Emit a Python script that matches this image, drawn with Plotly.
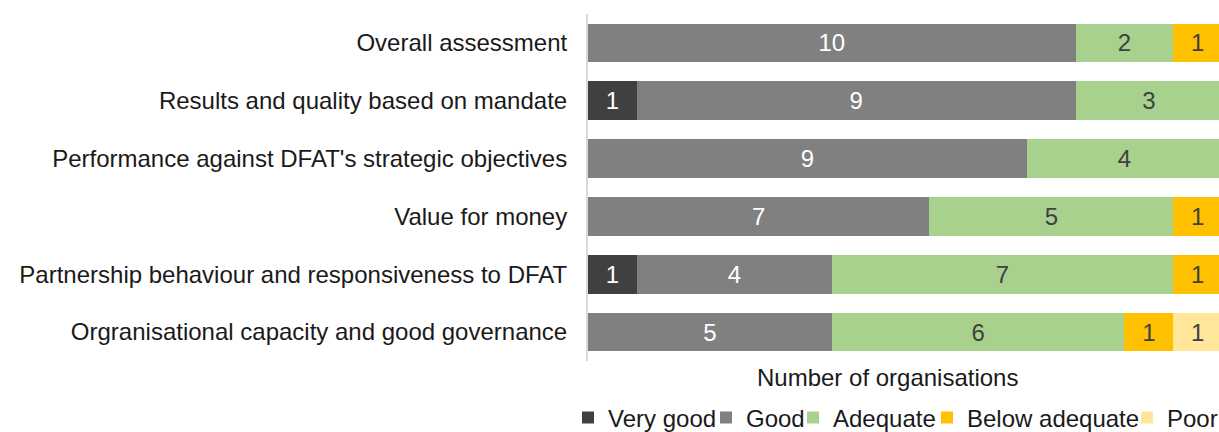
import plotly.graph_objects as go

# Assessment criteria, listed top to bottom
criteria = [
    "Overall assessment",
    "Results and quality based on mandate",
    "Performance against DFAT's strategic objectives",
    "Value for money",
    "Partnership behaviour and responsiveness to DFAT",
    "Orgranisational capacity and good governance",
]

# Rating names, in stacking order
ratings = ["Very good", "Good", "Adequate", "Below adequate", "Poor"]

# Number of organisations per rating
very_good = [0, 1, 0, 0, 1, 0]
good = [10, 9, 9, 7, 4, 5]
adequate = [2, 3, 4, 5, 7, 6]
below_adequate = [1, 0, 0, 1, 1, 1]
poor = [0, 0, 0, 0, 0, 1]

counts = [very_good, good, adequate, below_adequate, poor]
bar_colors = ["#404040", "#808080", "#a9d18e", "#ffc000", "#ffe699"]
label_colors = ["#ffffff", "#ffffff", "#404040", "#404040", "#404040"]

# Left edge (px) of each legend entry's text along the bottom row
legend_text_x = [608, 746, 833, 967, 1167]

W, H = 1219, 432
FONT = "Liberation Sans, Arial, sans-serif"
FS = 24
TOP, BOTTOM, LEFT = 14, 71, 588
PLOT_H = H - TOP - BOTTOM
PLOT_W = W - LEFT
PX_PER_UNIT = 48.77

fig = go.Figure()
legend_layouts = {}
for i, (name, vals, color, txt_color) in enumerate(
        zip(ratings, counts, bar_colors, label_colors)):
    legend_id = "legend" if i == 0 else f"legend{i + 1}"
    fig.add_trace(go.Bar(
        name=name,
        y=criteria,
        x=vals,
        orientation="h",
        marker=dict(color=color, line=dict(width=0)),
        text=[str(v) if v else "" for v in vals],
        textposition="inside",
        insidetextanchor="middle",
        constraintext="none",
        textfont=dict(family=FONT, size=FS, color=txt_color),
        textangle=0,
        legend=legend_id,
    ))
    legend_layouts[legend_id] = dict(
        orientation="h",
        xref="container",
        x=(legend_text_x[i] - 40) / W,
        xanchor="left",
        yref="container",
        y=1 - 418 / H,
        yanchor="middle",
        font=dict(family=FONT, size=FS, color="#1a1a1a"),
        itemwidth=30,
        bgcolor="rgba(0,0,0,0)",
        borderwidth=0,
    )

fig.update_layout(
    barmode="stack",
    bargap=0.334,
    width=W,
    height=H,
    margin=dict(l=LEFT, r=0, t=TOP, b=BOTTOM),
    paper_bgcolor="white",
    plot_bgcolor="white",
    font=dict(family=FONT, size=FS, color="#1a1a1a"),
    showlegend=True,
    annotations=[
        dict(
            text="Number of organisations",
            xref="paper",
            yref="paper",
            x=(887 - LEFT) / PLOT_W,
            y=(H - BOTTOM - 377) / PLOT_H,
            xanchor="center",
            yanchor="middle",
            showarrow=False,
            font=dict(family=FONT, size=FS, color="#1a1a1a"),
        )
    ],
    **legend_layouts,
)

fig.update_xaxes(
    range=[0, PLOT_W / PX_PER_UNIT],
    showgrid=False,
    zeroline=False,
    showticklabels=False,
    ticks="",
    showline=False,
)
fig.update_yaxes(
    autorange="reversed",
    showgrid=False,
    zeroline=False,
    ticks="",
    showline=True,
    linecolor="#d9d9d9",
    linewidth=2,
    ticklabelstandoff=14,
    tickfont=dict(family=FONT, size=FS, color="#1a1a1a"),
)

fig.write_html("out.html")
